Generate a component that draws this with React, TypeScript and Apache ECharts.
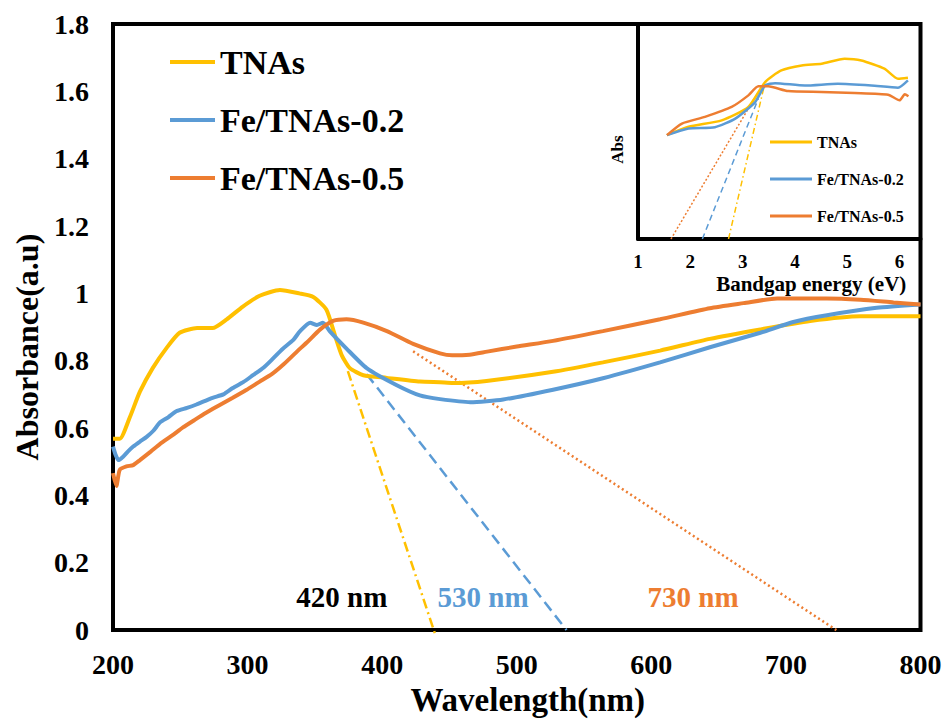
import React, { useEffect, useRef } from "react";
import * as echarts from "echarts";

const FONT = '"Liberation Serif", "Times New Roman", serif';
const YELLOW = "#FFC000";
const BLUE = "#5B9BD5";
const ORANGE = "#ED7D31";

const seriesNames = ["TNAs", "Fe/TNAs-0.2", "Fe/TNAs-0.5"];

// ---- main plot: absorbance vs wavelength ----
const tnasWl = [200, 205, 212.5, 220, 229.5, 240, 249.5, 262.5, 274, 284.5, 296.5, 309, 324, 338.5, 348.5, 358.5, 365, 370, 376, 386, 403.5, 428, 443, 452.5, 477.5, 527, 564, 606.5, 643.5, 681, 718, 755.5, 800];
const tnasAbs = [0.568, 0.568, 0.632, 0.708, 0.778, 0.839, 0.883, 0.897, 0.897, 0.923, 0.961, 0.993, 1.01, 1.0, 0.99, 0.952, 0.874, 0.816, 0.778, 0.757, 0.749, 0.738, 0.736, 0.734, 0.74, 0.767, 0.795, 0.83, 0.865, 0.893, 0.918, 0.932, 0.932];

const fe02Wl = [200, 202, 204, 207.5, 211, 215, 220, 225, 230, 235, 241, 247, 255, 262, 268, 274, 282, 289, 297, 304, 312, 319, 326, 334, 339, 346.5, 351.5, 356, 361, 373.5, 388.5, 410.5, 428, 443, 465.5, 490, 527, 564, 606.5, 643.5, 681, 705.5, 730.5, 767.5, 800];
const fe02Abs = [0.545, 0.52, 0.505, 0.515, 0.53, 0.545, 0.56, 0.574, 0.592, 0.617, 0.632, 0.65, 0.66, 0.67, 0.68, 0.69, 0.7, 0.719, 0.737, 0.757, 0.78, 0.807, 0.835, 0.862, 0.888, 0.913, 0.906, 0.913, 0.888, 0.836, 0.778, 0.728, 0.697, 0.686, 0.677, 0.685, 0.714, 0.748, 0.795, 0.84, 0.883, 0.915, 0.935, 0.957, 0.967];

const fe05Wl = [200, 202.5, 205, 210, 215, 220, 228, 235, 244, 252, 261, 269.5, 279, 289, 299, 309, 318, 327, 339, 344, 354, 363.5, 373.5, 386, 403.5, 423, 443, 452, 465, 478, 500, 527, 564, 606.5, 643.5, 668.5, 693.5, 730.5, 755.5, 780, 800];
const fe05Abs = [0.466, 0.428, 0.476, 0.486, 0.49, 0.505, 0.53, 0.553, 0.578, 0.602, 0.625, 0.646, 0.668, 0.69, 0.713, 0.738, 0.76, 0.79, 0.836, 0.854, 0.893, 0.918, 0.923, 0.913, 0.888, 0.85, 0.822, 0.816, 0.818, 0.827, 0.842, 0.859, 0.888, 0.923, 0.956, 0.971, 0.985, 0.985, 0.981, 0.973, 0.967];

// tangent (absorption-edge) lines: [start, end]
const tangentTnasWl = [374.5, 440];
const tangentTnasAbs = [0.769, -0.02];
const tangentFe02Wl = [388.5, 537];
const tangentFe02Abs = [0.76, 0];
const tangentFe05Wl = [423, 737.5];
const tangentFe05Abs = [0.828, 0];

// edge annotations
const edgeLabels = ["420 nm", "530 nm", "730 nm"];
const edgeLabelWl = [370, 475, 631];
const edgeLabelAbs = [0.097, 0.097, 0.097];
const edgeLabelColors = ["#000000", BLUE, ORANGE];

// ---- inset: Abs vs bandgap energy ----
const insetTnasE = [1.553, 1.966, 2.6, 3.11, 3.43, 3.74, 4.13, 4.51, 4.95, 5.27, 5.71, 5.97, 6.16];
const insetTnasAbs = [0.483, 0.522, 0.552, 0.614, 0.73, 0.784, 0.807, 0.815, 0.838, 0.83, 0.792, 0.745, 0.75];
const insetFe02E = [1.553, 1.966, 2.47, 2.86, 3.24, 3.43, 3.62, 4.19, 4.82, 5.46, 5.97, 6.16];
const insetFe02Abs = [0.483, 0.514, 0.52, 0.56, 0.637, 0.714, 0.725, 0.714, 0.722, 0.714, 0.704, 0.738];
const insetFe05E = [1.553, 1.84, 2.28, 2.79, 3.11, 3.3, 3.49, 3.87, 4.51, 5.14, 5.78, 6.0, 6.1, 6.17];
const insetFe05Abs = [0.483, 0.537, 0.568, 0.614, 0.668, 0.71, 0.71, 0.688, 0.684, 0.679, 0.671, 0.645, 0.673, 0.664];
const insetTangentTnasE = [2.73, 3.43];
const insetTangentTnasAbs = [0, 0.73];
const insetTangentFe02E = [2.23, 3.3];
const insetTangentFe02Abs = [0, 0.653];
const insetTangentFe05E = [1.63, 3.24];
const insetTangentFe05Abs = [0, 0.66];

const zip = (xs: number[], ys: number[]) => xs.map((x, i) => [x, ys[i]]);

const bold = { fontFamily: FONT, fontWeight: "bold" as const, color: "#000" };

export default function App() {
  const ref = useRef<HTMLDivElement>(null);
  useEffect(() => {
    if (!ref.current) return;
    const chart = echarts.init(ref.current, undefined, { renderer: "svg" });
    const colors = [YELLOW, BLUE, ORANGE];
    const mainData = [zip(tnasWl, tnasAbs), zip(fe02Wl, fe02Abs), zip(fe05Wl, fe05Abs)];
    const insetData = [zip(insetTnasE, insetTnasAbs), zip(insetFe02E, insetFe02Abs), zip(insetFe05E, insetFe05Abs)];
    const tangents = [zip(tangentTnasWl, tangentTnasAbs), zip(tangentFe02Wl, tangentFe02Abs), zip(tangentFe05Wl, tangentFe05Abs)];
    const insetTangents = [
      zip(insetTangentTnasE, insetTangentTnasAbs),
      zip(insetTangentFe02E, insetTangentFe02Abs),
      zip(insetTangentFe05E, insetTangentFe05Abs),
    ];
    const dashes: any[] = [[10, 4, 2, 4], [11, 6], [2, 3]];
    const insetDashes: any[] = [[6, 3, 1.5, 3], [6, 4], [2, 2]];

    const series: any[] = [];
    seriesNames.forEach((name, i) => {
      series.push({
        name,
        type: "line",
        xAxisIndex: 0,
        yAxisIndex: 0,
        data: mainData[i],
        symbol: "none",
        smooth: 0.2,
        lineStyle: { color: colors[i], width: 4 },
        itemStyle: { color: colors[i] },
        z: 3 + i,
      });
    });
    seriesNames.forEach((name, i) => {
      series.push({
        name: name + " edge",
        type: "line",
        xAxisIndex: 0,
        yAxisIndex: 0,
        data: tangents[i],
        symbol: "none",
        clip: false,
        lineStyle: { color: colors[i], width: 2.5, type: dashes[i] },
        itemStyle: { color: colors[i] },
        z: 2,
      });
    });
    seriesNames.forEach((name, i) => {
      series.push({
        name,
        type: "line",
        xAxisIndex: 1,
        yAxisIndex: 1,
        data: insetData[i],
        symbol: "none",
        smooth: 0.2,
        lineStyle: { color: colors[i], width: 2.5 },
        itemStyle: { color: colors[i] },
        z: 3 + i,
      });
      series.push({
        name: name + " inset edge",
        type: "line",
        xAxisIndex: 1,
        yAxisIndex: 1,
        data: insetTangents[i],
        symbol: "none",
        lineStyle: { color: colors[i], width: 1.5, type: insetDashes[i] },
        itemStyle: { color: colors[i] },
        z: 2,
      });
    });
    series.push({
      name: "edge labels",
      type: "scatter",
      xAxisIndex: 0,
      yAxisIndex: 0,
      symbolSize: 0,
      silent: true,
      itemStyle: { opacity: 1 },
      data: edgeLabels.map((t, i) => ({
        name: t,
        value: [edgeLabelWl[i], edgeLabelAbs[i]],
        label: { color: edgeLabelColors[i] },
      })),
      label: {
        show: true,
        position: "inside",
        formatter: "{b}",
        fontFamily: FONT,
        fontWeight: "bold",
        fontSize: 29,
        opacity: 1,
      },
    });

    chart.setOption({
      animation: false,
      backgroundColor: "#fff",
      grid: [
        { left: 113, right: 25.5, top: 24, bottom: 81, show: true, borderColor: "#000", borderWidth: 4, backgroundColor: "transparent" },
        { left: 638, right: 25.5, top: 24, bottom: 482, show: false },
      ],
      legend: [
        {
          data: seriesNames,
          orient: "vertical",
          left: 170,
          top: 45,
          padding: 0,
          itemWidth: 45,
          itemHeight: 4,
          itemGap: 24,
          icon: "rect",
          selectedMode: false,
          textStyle: { ...bold, fontSize: 34 },
        },
        {
          data: seriesNames,
          orient: "vertical",
          left: 770,
          top: 134,
          padding: 0,
          itemWidth: 42,
          itemHeight: 3,
          itemGap: 21,
          icon: "rect",
          selectedMode: false,
          textStyle: { ...bold, fontSize: 16 },
        },
      ],
      xAxis: [
        {
          gridIndex: 0,
          type: "value",
          min: 200,
          max: 800,
          interval: 100,
          axisLine: { show: false },
          axisTick: { show: false },
          splitLine: { show: false },
          axisLabel: { ...bold, fontSize: 28, margin: 20 },
          name: "Wavelength(nm)",
          nameLocation: "middle",
          nameGap: 50,
          nameTextStyle: { ...bold, fontSize: 33, padding: [0, 0, 0, 22] },
        },
        {
          gridIndex: 1,
          type: "value",
          min: 1,
          max: 6.4,
          interval: 1,
          axisLine: { show: true, onZero: false, lineStyle: { color: "#000", width: 4 } },
          axisTick: { show: false },
          splitLine: { show: false },
          axisLabel: { ...bold, fontSize: 19, margin: 13, showMaxLabel: false },
          name: "Bandgap energy (eV)",
          nameLocation: "middle",
          nameGap: 34,
          nameTextStyle: { ...bold, fontSize: 21, padding: [0, 0, 0, 64] },
        },
      ],
      yAxis: [
        {
          gridIndex: 0,
          type: "value",
          min: 0,
          max: 1.8,
          interval: 0.2,
          axisLine: { show: false },
          axisTick: { show: false },
          splitLine: { show: false },
          axisLabel: { ...bold, fontSize: 28, margin: 24 },
          name: "Absorbance(a.u)",
          nameLocation: "middle",
          nameGap: 66,
          nameRotate: 90,
          nameTextStyle: { ...bold, fontSize: 32, padding: [0, 40, 0, 0] },
        },
        {
          gridIndex: 1,
          type: "value",
          min: 0,
          max: 1,
          axisLine: { show: true, onZero: false, lineStyle: { color: "#000", width: 4 } },
          axisTick: { show: false },
          splitLine: { show: false },
          axisLabel: { show: false },
          name: "Abs",
          nameLocation: "middle",
          nameGap: 12,
          nameRotate: 90,
          nameTextStyle: { ...bold, fontSize: 17, padding: [0, 36, 0, 0] },
        },
      ],
      series,
    });
    return () => chart.dispose();
  }, []);
  return (
    <div
      ref={ref}
      style={{ position: "absolute", left: 0, top: 0, width: 946, height: 721, background: "#fff" }}
    />
  );
}
